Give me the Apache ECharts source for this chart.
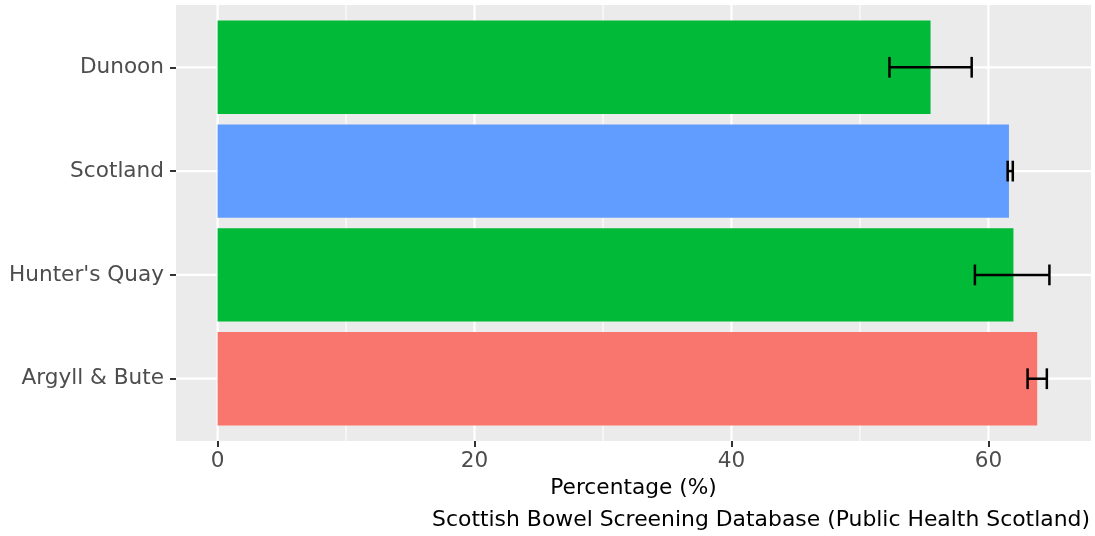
<!DOCTYPE html>
<html>
<head>
<meta charset="utf-8">
<script src="https://cdn.jsdelivr.net/npm/echarts@6/dist/echarts.min.js"></script>
<style>html,body{margin:0;padding:0;background:#fff}#c{width:1095px;height:536px}</style>
</head>
<body>
<div id="c"></div>
<script>
// Categories listed bottom to top
const categories = ["Argyll & Bute", "Hunter's Quay", "Scotland", "Dunoon"];
const groups = ["Council", "Locality", "Scotland", "Locality"];
const values = [63.8, 61.95, 61.6, 55.5];
const lower = [63.05, 58.95, 61.5, 52.3];
const upper = [64.55, 64.75, 61.9, 58.7];
const xTicks = [0, 20, 40, 60];
const xMinorTicks = [10, 30, 50];
const xTitle = "Percentage (%)";
const caption = "Scottish Bowel Screening Database (Public Health Scotland)";

const groupColors = { Council: '#F8766D', Locality: '#00BA38', Scotland: '#619CFF' };
const FONT = 'DejaVu Sans';
const FS = 21.6;
const yPos = categories.map((c, i) => i + 1);

const xMax = Math.max(...upper);
const xLo = -0.05 * xMax, xHi = 1.05 * xMax;

const chart = echarts.init(document.getElementById('c'), null, { renderer: 'canvas' });

const gridData = [];
xMinorTicks.forEach(v => gridData.push(['v', v, 1.1]));
xTicks.forEach(v => gridData.push(['v', v, 2.2]));
yPos.forEach(v => gridData.push(['h', v, 2.2]));

chart.setOption({
  animation: false,
  backgroundColor: '#ffffff',
  grid: { left: 176, right: 4, top: 5, bottom: 95, show: true, backgroundColor: '#EBEBEB', borderWidth: 0 },
  xAxis: {
    type: 'value', min: xLo, max: xHi,
    axisLine: { show: false, onZero: false },
    splitLine: { show: false },
    axisTick: { show: true, customValues: xTicks, length: 6, lineStyle: { color: '#333333', width: 2 } },
    axisLabel: { customValues: xTicks, color: '#4D4D4D', fontFamily: FONT, fontSize: FS, margin: 9 },
    name: xTitle, nameLocation: 'middle', nameGap: 32,
    nameTextStyle: { color: '#000000', fontFamily: FONT, fontSize: 21.7, verticalAlign: 'top' }
  },
  yAxis: {
    type: 'value', min: 0.4, max: 4.6,
    axisLine: { show: false, onZero: false },
    splitLine: { show: false },
    axisTick: { show: true, customValues: yPos, length: 6, lineStyle: { color: '#333333', width: 2 } },
    axisLabel: {
      customValues: yPos, color: '#4D4D4D', fontFamily: FONT, fontSize: FS, margin: 12,
      formatter: v => categories[Math.round(v) - 1] || ''
    }
  },
  graphic: [{
    type: 'text', right: 5, top: 509,
    style: { text: caption, fill: '#000000', font: '21.9px "DejaVu Sans"' }
  }],
  series: [
    {
      type: 'custom', z: 1, silent: true,
      data: gridData,
      renderItem: function (params, api) {
        const d = gridData[params.dataIndex];
        const cs = params.coordSys;
        let shape;
        if (d[0] === 'v') {
          const x = api.coord([d[1], 1])[0];
          shape = { x1: x, y1: cs.y, x2: x, y2: cs.y + cs.height };
        } else {
          const y = api.coord([0, d[1]])[1];
          shape = { x1: cs.x, y1: y, x2: cs.x + cs.width, y2: y };
        }
        return { type: 'line', shape: shape, style: { stroke: '#ffffff', lineWidth: d[2] } };
      }
    },
    {
      type: 'custom', z: 2,
      data: values.map((v, i) => [v, yPos[i], i]),
      encode: { x: 0, y: 1 },
      renderItem: function (params, api) {
        const v = api.value(0), y = api.value(1), i = api.value(2);
        const p0 = api.coord([0, y + 0.45]);
        const p1 = api.coord([v, y - 0.45]);
        return {
          type: 'rect',
          shape: { x: p0[0], y: p0[1], width: p1[0] - p0[0], height: p1[1] - p0[1] },
          style: { fill: groupColors[groups[i]] }
        };
      }
    },
    {
      type: 'custom', z: 3,
      data: lower.map((l, i) => [l, upper[i], yPos[i]]),
      encode: { x: [0, 1], y: 2 },
      renderItem: function (params, api) {
        const l = api.value(0), u = api.value(1), y = api.value(2);
        const a = api.coord([l, y]), b = api.coord([u, y]);
        const top = api.coord([l, y + 0.1])[1], bot = api.coord([l, y - 0.1])[1];
        const st = { stroke: '#000000', lineWidth: 2.5 };
        return {
          type: 'group',
          children: [
            { type: 'line', shape: { x1: a[0], y1: a[1], x2: b[0], y2: b[1] }, style: st },
            { type: 'line', shape: { x1: a[0], y1: top, x2: a[0], y2: bot }, style: st },
            { type: 'line', shape: { x1: b[0], y1: top, x2: b[0], y2: bot }, style: st }
          ]
        };
      }
    }
  ]
});
</script>
</body>
</html>
